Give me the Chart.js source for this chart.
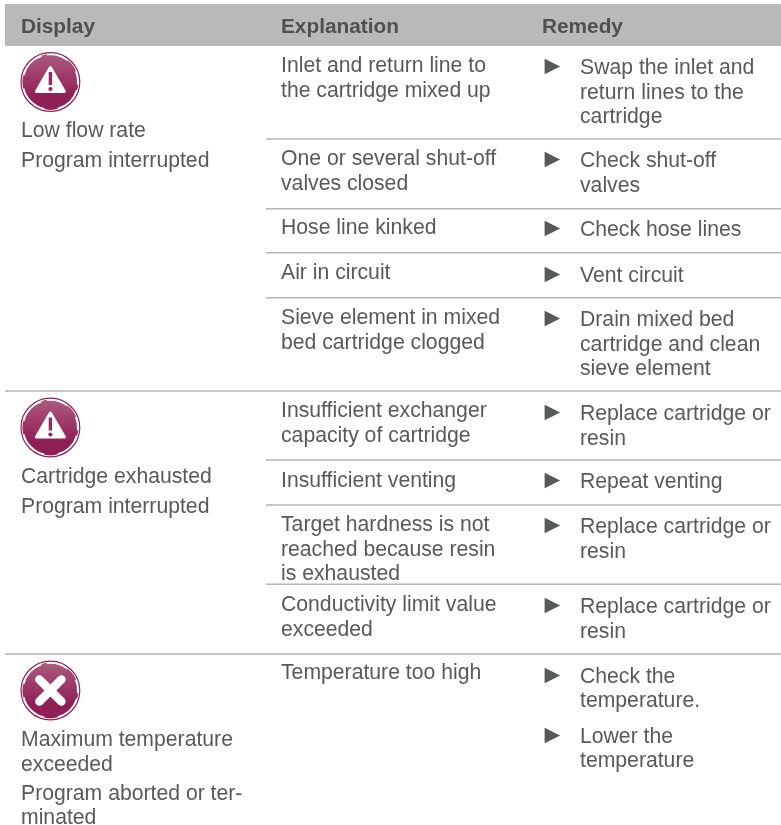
<!DOCTYPE html>
<html>
<head>
<meta charset="utf-8">
<script src="https://cdn.jsdelivr.net/npm/chart.js@4"></script>
<style>
html, body { margin: 0; padding: 0; background: #fff; }
#wrap { width: 781px; height: 825px; }
</style>
</head>
<body>
<div id="wrap"><canvas id="table-chart" width="781" height="825"></canvas></div>
<script>
// ── Table content ────────────────────────────────────────
const headers = ['Display', 'Explanation', 'Remedy'];

const displayTexts = [
    ['Low flow rate', 'Program interrupted'],
    ['Cartridge exhausted', 'Program interrupted'],
    ['Maximum temperature', 'exceeded', 'Program aborted or ter-', 'minated'],
];
const displayIcons = ['warning', 'warning', 'cross'];

const explanations = [
    ['Inlet and return line to', 'the cartridge mixed up'],
    ['One or several shut-off', 'valves closed'],
    ['Hose line kinked'],
    ['Air in circuit'],
    ['Sieve element in mixed', 'bed cartridge clogged'],
    ['Insufficient exchanger', 'capacity of cartridge'],
    ['Insufficient venting'],
    ['Target hardness is not', 'reached because resin', 'is exhausted'],
    ['Conductivity limit value', 'exceeded'],
    ['Temperature too high'],
];

const remedies = [
    ['Swap the inlet and', 'return lines to the', 'cartridge'],
    ['Check shut-off', 'valves'],
    ['Check hose lines'],
    ['Vent circuit'],
    ['Drain mixed bed', 'cartridge and clean', 'sieve element'],
    ['Replace cartridge or', 'resin'],
    ['Repeat venting'],
    ['Replace cartridge or', 'resin'],
    ['Replace cartridge or', 'resin'],
    ['Check the', 'temperature.'],
    ['Lower the', 'temperature'],
];

// ── Layout (canvas units) ────────────────────────────────
const thinRules = [139, 208.7, 252.7, 297.7, 460, 505, 584.3];
const thickRules = [391, 654];
const thinRuleStart = 266;
const thickRuleStart = 5;
const headerBand = { x0: 5, x1: 781, y0: 4, y1: 46 };
const lineHeight = 24.6;
const columnX = { display: 21, explanation: 281, bullet: 539.5, remedy: 580 };
const headerX = [21, 281, 542];
const explanationY = [72, 165, 234, 279, 324, 417, 487, 531, 611, 679];
const remedyY = [74, 167, 236, 281.5, 326, 420, 488, 533, 613, 682.5, 742.5];
const displayLineY = [[137, 167], [483, 513], [746, 770.5, 800, 824]];
const iconY = [82, 427.5, 690.5];
const iconX = 50.4;

const textColor = '#58595b';
const ruleColor = '#b5b5b5';
const bodyFont = '21.2px "Liberation Sans", Arial, sans-serif';
const headFont = 'bold 20.8px "Liberation Sans", Arial, sans-serif';
const bulletFont = '26px "Liberation Sans", Arial, sans-serif';

// ── Icons ────────────────────────────────────────────────
function drawIcon(ctx, x, y, kind) {
    const r = 28;
    const grad = ctx.createLinearGradient(0, y - r, 0, y + r);
    grad.addColorStop(0, '#ac5b7d');
    grad.addColorStop(0.75, '#8f1f55');
    grad.addColorStop(1, '#8f1f55');

    ctx.beginPath();
    ctx.arc(x, y, r, 0, Math.PI * 2);
    ctx.fillStyle = grad;
    ctx.fill();

    // white gap between blob and ring, uneven like the original stamp
    ctx.strokeStyle = '#fff';
    ctx.lineWidth = 2;
    [[-2.9, -1.9], [-1.7, -0.9], [-0.4, 0.1], [0.3, 1.3], [1.8, 2.9]].forEach(([a0, a1]) => {
        ctx.beginPath();
        ctx.arc(x, y, r - 0.3, a0, a1);
        ctx.stroke();
    });

    ctx.beginPath();
    ctx.arc(x, y, r + 1.4, 0, Math.PI * 2);
    ctx.strokeStyle = '#8f1f55';
    ctx.lineWidth = 1.2;
    ctx.stroke();

    ctx.fillStyle = '#fff';
    ctx.strokeStyle = '#fff';
    if (kind === 'warning') {
        ctx.beginPath();
        ctx.moveTo(x, y - 14.5);
        ctx.lineTo(x + 14, y + 9.5);
        ctx.lineTo(x - 14, y + 9.5);
        ctx.closePath();
        ctx.lineJoin = 'round';
        ctx.lineWidth = 3;
        ctx.stroke();
        ctx.fill();
        ctx.fillStyle = '#93295c';
        ctx.fillRect(x - 1.7, y - 10, 3.4, 13);
        ctx.beginPath();
        ctx.arc(x, y + 7, 2.1, 0, Math.PI * 2);
        ctx.fill();
    } else {
        ctx.lineWidth = 8.5;
        ctx.lineCap = 'round';
        ctx.beginPath();
        ctx.moveTo(x - 11, y - 11);
        ctx.lineTo(x + 11, y + 11);
        ctx.moveTo(x + 11, y - 11);
        ctx.lineTo(x - 11, y + 11);
        ctx.stroke();
    }
}

// ── Table plugin ─────────────────────────────────────────
const tablePlugin = {
    id: 'serviceTable',
    beforeDatasetsDraw(chart) {
        const { ctx, scales: { x, y } } = chart;
        ctx.save();
        ctx.fillStyle = '#b9b9b9';
        ctx.fillRect(x.getPixelForValue(headerBand.x0), y.getPixelForValue(headerBand.y0),
            x.getPixelForValue(headerBand.x1) - x.getPixelForValue(headerBand.x0),
            y.getPixelForValue(headerBand.y1) - y.getPixelForValue(headerBand.y0));
        ctx.restore();
    },
    afterDatasetsDraw(chart) {
        const { ctx, scales: { x, y } } = chart;
        ctx.save();
        ctx.textBaseline = 'alphabetic';
        ctx.textAlign = 'left';

        // Header
        ctx.font = headFont;
        ctx.fillStyle = '#505050';
        headers.forEach((h, i) => ctx.fillText(h, x.getPixelForValue(headerX[i]), y.getPixelForValue(33)));

        // Display column
        displayIcons.forEach((kind, i) => drawIcon(ctx, x.getPixelForValue(iconX), y.getPixelForValue(iconY[i]), kind));
        ctx.font = bodyFont;
        ctx.fillStyle = textColor;
        displayTexts.forEach((lines, i) => {
            lines.forEach((line, j) => ctx.fillText(line, x.getPixelForValue(columnX.display), y.getPixelForValue(displayLineY[i][j])));
        });

        // Explanation column
        explanations.forEach((lines, i) => {
            lines.forEach((line, j) => ctx.fillText(line, x.getPixelForValue(columnX.explanation), y.getPixelForValue(explanationY[i] + j * lineHeight)));
        });

        // Remedy column
        remedies.forEach((lines, i) => {
            ctx.font = bulletFont;
            ctx.fillText('►', x.getPixelForValue(columnX.bullet), y.getPixelForValue(remedyY[i]));
            ctx.font = bodyFont;
            lines.forEach((line, j) => ctx.fillText(line, x.getPixelForValue(columnX.remedy), y.getPixelForValue(remedyY[i] + j * lineHeight)));
        });
        ctx.restore();
    },
};

// ── Chart ────────────────────────────────────────────────
const ruleDataset = (value, start) => ({
    data: [{ x: start, y: value }, { x: 781, y: value }],
    showLine: true,
    borderColor: ruleColor,
    borderWidth: 1.6,
    pointRadius: 0,
});

new Chart(document.getElementById('table-chart').getContext('2d'), {
    type: 'scatter',
    data: {
        datasets: [
            ...thinRules.map(v => ruleDataset(v, thinRuleStart)),
            ...thickRules.map(v => ruleDataset(v, thickRuleStart)),
        ],
    },
    options: {
        responsive: false,
        animation: false,
        layout: { padding: 0 },
        plugins: { legend: { display: false }, tooltip: { enabled: false } },
        scales: {
            x: { type: 'linear', min: 0, max: 781, display: false },
            y: { type: 'linear', min: 0, max: 825, reverse: true, display: false },
        },
    },
    plugins: [tablePlugin],
});
</script>
</body>
</html>
